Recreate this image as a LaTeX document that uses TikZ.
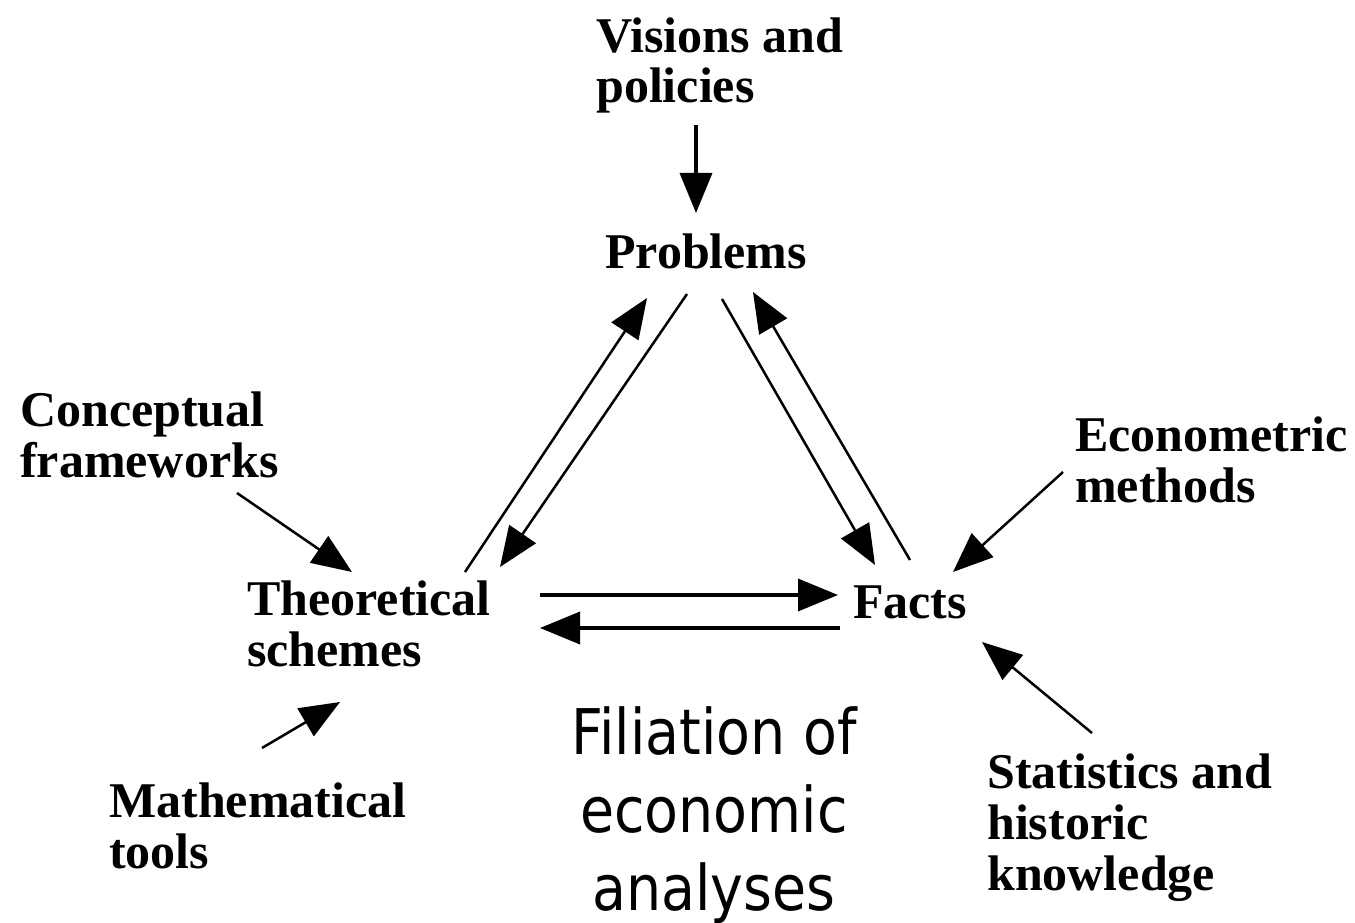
\documentclass[tikz,border=0pt]{standalone}
\usepackage{fontspec}
\setmainfont{Liberation Serif}
\newfontfamily\titlefont{DejaVu Sans}[FakeStretch=0.88]
\usetikzlibrary{arrows.meta}
\begin{document}
\begin{tikzpicture}[x=1pt,y=-1pt,
  lbl/.style={font=\fontsize{50}{51}\selectfont\bfseries, inner sep=0pt, align=left, anchor=base west},
  ttl/.style={font=\titlefont\fontsize{63}{78}\selectfont, inner sep=0pt, align=center, anchor=base},
  arr/.style={-{Triangle[length=40pt,width=32pt]}, line width=3.5pt},
  darr/.style={-{Triangle[length=40pt,width=32pt]}, line width=2.5pt}]
\useasboundingbox (0,0) rectangle (1355,923);
\fill[white] (0,0) rectangle (1355,923);
% text nodes (anchored at the baseline of their last line)
\node[lbl] (vis) at (596,103) {Visions and\\policies};
\node[lbl] (prob) at (605,268) {Problems};
\node[lbl] (theo) at (247,666) {Theoretical\\schemes};
\node[lbl] (facts) at (853,618) {Facts};
\node[lbl] (concept) at (20,477) {Conceptual\\frameworks};
\node[lbl] (math) at (109,868) {Mathematical\\tools};
\node[lbl] (econ) at (1075,502) {Econometric\\methods};
\node[lbl] (stat) at (987,890) {Statistics and\\historic\\knowledge};
\node[ttl] (title) at (714,910) {Filiation of\\economic\\analyses};
% connector end points
\coordinate (vis-s) at (696,125);
\coordinate (prob-n) at (696,213);
\coordinate (theo-up) at (465,572);
\coordinate (prob-upin) at (647,298);
\coordinate (prob-dnout) at (687,294);
\coordinate (theo-dnin) at (500,567);
\coordinate (prob-rout) at (722,299);
\coordinate (facts-in) at (875,565);
\coordinate (facts-out) at (910,560);
\coordinate (prob-rin) at (753,292);
\coordinate (theo-e1) at (540,595);
\coordinate (facts-w1) at (838,595);
\coordinate (facts-w2) at (840,628);
\coordinate (theo-e2) at (540,628);
\coordinate (concept-se) at (237,493);
\coordinate (theo-nw) at (352,572);
\coordinate (math-ne) at (262,748);
\coordinate (theo-s) at (340,702);
\coordinate (econ-sw) at (1063,472);
\coordinate (facts-ne) at (953,572);
\coordinate (stat-nw) at (1092,733);
\coordinate (facts-se) at (982,642);
% connectors
\draw[arr] (vis-s) -- (prob-n);
\draw[darr] (theo-up) -- (prob-upin);
\draw[darr] (prob-dnout) -- (theo-dnin);
\draw[darr] (prob-rout) -- (facts-in);
\draw[darr] (facts-out) -- (prob-rin);
\draw[arr] (theo-e1) -- (facts-w1);
\draw[arr] (facts-w2) -- (theo-e2);
\draw[darr] (concept-se) -- (theo-nw);
\draw[darr] (math-ne) -- (theo-s);
\draw[darr] (econ-sw) -- (facts-ne);
\draw[darr] (stat-nw) -- (facts-se);
\end{tikzpicture}
\end{document}
